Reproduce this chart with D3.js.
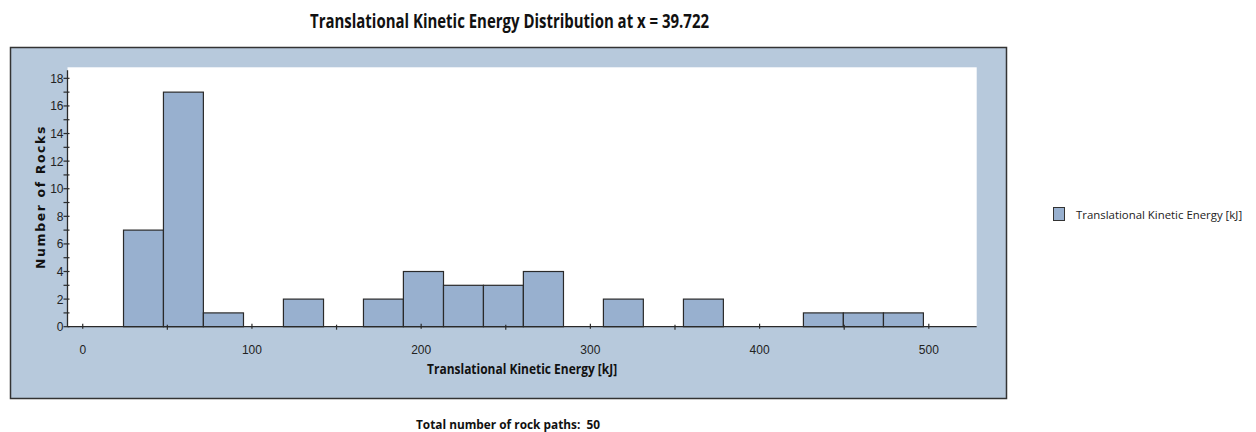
<!DOCTYPE html>
<html>
<head>
<meta charset="utf-8">
<script src="https://cdn.jsdelivr.net/npm/d3@7"></script>
<style>
  html, body { margin: 0; padding: 0; background: #ffffff; }
  svg { display: block; }
</style>
</head>
<body>
<svg id="chart" width="1256" height="432"></svg>
<script>
// Histogram of translational kinetic energy [kJ] at x = 39.722
const binEdges = [24.1, 47.7, 71.3, 95.0, 118.6, 142.3, 165.9, 189.5, 213.2, 236.8,
                  260.4, 284.1, 307.7, 331.3, 355.0, 378.6, 402.3, 425.9, 449.5, 473.2, 496.8];
const binCounts = [7, 17, 1, 0, 2, 0, 2, 4, 3, 3, 4, 0, 2, 0, 2, 0, 0, 1, 1, 1];
const xMajorTicks = [0, 100, 200, 300, 400, 500];
const xMinorTicks = [50, 150, 250, 350, 450];
const yMajorTicks = [0, 2, 4, 6, 8, 10, 12, 14, 16, 18];
const yMinorTicks = [1, 3, 5, 7, 9, 11, 13, 15, 17];
const titleText = "Translational Kinetic Energy Distribution at x = 39.722";
const xLabel = "Translational Kinetic Energy [kJ]";
const yLabel = "Number of Rocks";
const seriesName = "Translational Kinetic Energy [kJ]";
const totalPaths = 50;

const bins = binCounts.map((c, i) => ({ x0: binEdges[i], x1: binEdges[i + 1], count: c }));

const svg = d3.select("#chart");
const panelFill = "#b7c9dc";
const barFill = "#98b0cf";
const dark = "#2a2a2a";
const boldFont = "'Open Sans', sans-serif";

// outer panel
svg.append("rect")
  .attr("x", 10.5).attr("y", 47.5).attr("width", 996).attr("height", 351)
  .attr("fill", panelFill).attr("stroke", "#333").attr("stroke-width", 1.5);

const plot = { left: 67.5, right: 976.7, top: 67.3, bottom: 326.7 };

svg.append("rect")
  .attr("x", plot.left).attr("y", plot.top)
  .attr("width", plot.right - plot.left).attr("height", plot.bottom - plot.top)
  .attr("fill", "#ffffff");

const x = d3.scaleLinear().domain([-9.0, 528.3]).range([plot.left, plot.right]);
const y = d3.scaleLinear().domain([0, 18.8]).range([plot.bottom, plot.top]);

// bars
svg.append("g").selectAll("rect")
  .data(bins.filter(b => b.count > 0))
  .join("rect")
  .attr("x", d => x(d.x0))
  .attr("y", d => y(d.count))
  .attr("width", d => x(d.x1) - x(d.x0))
  .attr("height", d => y(0) - y(d.count))
  .attr("fill", barFill)
  .attr("stroke", dark)
  .attr("stroke-width", 1.2);

const tickFont = "'Liberation Sans', Arial, sans-serif";

// x axis
const xAxis = svg.append("g").attr("transform", `translate(0,${plot.bottom})`);
xAxis.append("line").attr("x1", plot.left).attr("x2", plot.right)
  .attr("stroke", dark).attr("stroke-width", 1.3);
xAxis.selectAll("line.major").data(xMajorTicks).join("line").attr("class", "major")
  .attr("x1", d => x(d)).attr("x2", d => x(d)).attr("y1", -3).attr("y2", 2)
  .attr("stroke", dark).attr("stroke-width", 1.2);
xAxis.selectAll("line.minor").data(xMinorTicks).join("line").attr("class", "minor")
  .attr("x1", d => x(d)).attr("x2", d => x(d)).attr("y1", -2).attr("y2", 3)
  .attr("stroke", dark).attr("stroke-width", 1.2);
xAxis.selectAll("text").data(xMajorTicks).join("text")
  .attr("x", d => x(d)).attr("y", 27)
  .attr("text-anchor", "middle")
  .attr("font-family", tickFont).attr("font-size", 12)
  .attr("fill", "#222").text(d => d);

// y axis
const yAxis = svg.append("g").attr("transform", `translate(${plot.left},0)`);
yAxis.append("line").attr("y1", plot.top + 3).attr("y2", plot.bottom)
  .attr("stroke", dark).attr("stroke-width", 1.3);
yAxis.selectAll("line.major").data(yMajorTicks).join("line").attr("class", "major")
  .attr("y1", d => y(d)).attr("y2", d => y(d)).attr("x1", -4).attr("x2", 2)
  .attr("stroke", dark).attr("stroke-width", 1.2);
yAxis.selectAll("line.minor").data(yMinorTicks).join("line").attr("class", "minor")
  .attr("y1", d => y(d)).attr("y2", d => y(d)).attr("x1", -4).attr("x2", 2)
  .attr("stroke", dark).attr("stroke-width", 1.2);
yAxis.selectAll("text").data(yMajorTicks).join("text")
  .attr("x", -4).attr("y", d => y(d) + 4.5)
  .attr("text-anchor", "end")
  .attr("font-family", tickFont).attr("font-size", 12)
  .attr("fill", "#222").text(d => d);

// axis titles
svg.append("text")
  .attr("x", (plot.left + plot.right) / 2).attr("y", 374)
  .attr("text-anchor", "middle")
  .attr("font-family", boldFont).attr("font-weight", "bold")
  .attr("font-size", 14).attr("fill", "#111")
  .attr("textLength", 190).attr("lengthAdjust", "spacingAndGlyphs")
  .text(xLabel);

svg.append("text")
  .attr("transform", `translate(45,197) rotate(-90)`)
  .attr("text-anchor", "middle")
  .attr("font-family", "'DejaVu Sans', Verdana, sans-serif").attr("font-weight", "bold")
  .attr("font-size", 12.5).attr("letter-spacing", 1.6).attr("fill", "#111")
  .text(yLabel);

// chart title
svg.append("text")
  .attr("x", 509.5).attr("y", 28)
  .attr("text-anchor", "middle")
  .attr("font-family", boldFont).attr("font-weight", "bold")
  .attr("font-size", 19).attr("fill", "#111")
  .attr("textLength", 399).attr("lengthAdjust", "spacingAndGlyphs")
  .text(titleText);

// footer
svg.append("text")
  .attr("x", 508).attr("y", 429)
  .attr("text-anchor", "middle")
  .attr("font-family", boldFont).attr("font-weight", "bold")
  .attr("font-size", 13).attr("fill", "#111")
  .attr("xml:space", "preserve")
  .attr("textLength", 184).attr("lengthAdjust", "spacingAndGlyphs")
  .text(`Total number of rock paths:  ${totalPaths}`);

// legend
const legend = svg.append("g").attr("transform", "translate(1053,207)");
legend.append("rect").attr("x", 0.5).attr("y", 0.5).attr("width", 11).attr("height", 13)
  .attr("fill", barFill).attr("stroke", "#333").attr("stroke-width", 1);
legend.append("text").attr("x", 23).attr("y", 12)
  .attr("font-family", boldFont).attr("font-size", 11.4)
  .attr("fill", "#222")
  .text(seriesName);
</script>
</body>
</html>
